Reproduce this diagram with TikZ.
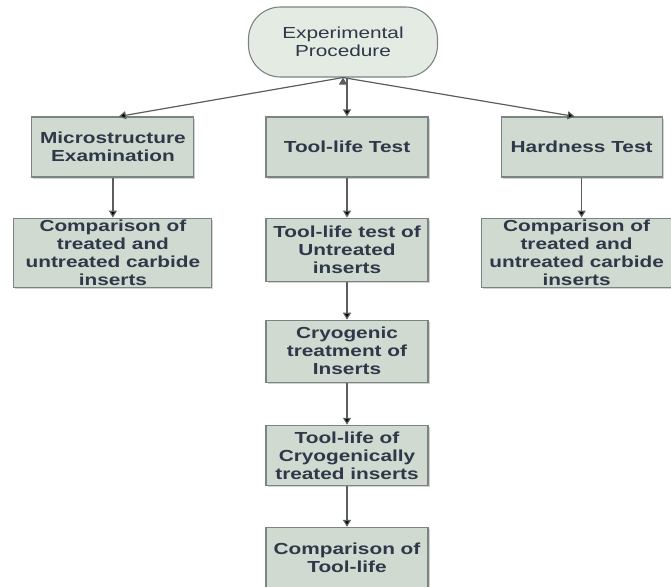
\documentclass[tikz,border=0pt]{standalone}
\usepackage{fontspec}
\setmainfont{Liberation Sans}[FakeStretch=1.3]
\usetikzlibrary{arrows.meta, positioning, shadows}
\definecolor{boxfill}{HTML}{D0DAD1}
\definecolor{rootfill}{HTML}{E3EBE2}
\definecolor{boxline}{HTML}{7A8480}
\definecolor{boxtext}{HTML}{2E3848}
\definecolor{arrowgrey}{HTML}{5A5E5E}

\begin{document}
\begin{tikzpicture}[x=1pt,y=1pt,node distance=40pt,>={Triangle[length=7pt,width=8pt]},
        every node/.style={text=boxtext,font=\fontsize{16}{18}\selectfont,align=center},
        stepbox/.style={draw=boxline,fill=boxfill,line width=1.1pt,minimum height=60pt,inner sep=2pt,
            font=\fontsize{16}{18}\selectfont\bfseries,
            drop shadow={opacity=0.35,shadow xshift=1.5pt,shadow yshift=-1.5pt}},
        rootbox/.style={draw=boxline,fill=rootfill,line width=1.1pt,rounded corners=32pt,
            minimum width=189pt,minimum height=70pt}]
        \useasboundingbox (0,0) rectangle (671,-586);
        \node[rootbox] (root) at (343,-42) {Experimental\\Procedure};
        \node[stepbox,minimum width=162pt] (test) at (347,-147) {Tool-life Test};
        \node[stepbox,minimum width=162pt] (micro) [left=71pt of test] {Microstructure\\Examination};
        \node[stepbox,minimum width=161pt] (hard) [right=72pt of test] {Hardness Test};
        \node[stepbox,minimum width=198pt] (cmp_l) [below=of micro] {Comparison of\\treated and\\untreated carbide\\inserts};
        \node[stepbox,minimum width=190pt] (cmp_r) [below=of hard,xshift=-5pt] {Comparison of\\treated and\\untreated carbide\\inserts};
        \node[stepbox,minimum width=162pt,minimum height=63pt] (untr) [below=of test] {Tool-life test of\\Untreated\\inserts};
        \node[stepbox,minimum width=162pt,minimum height=62pt] (cryo) [below=38pt of untr] {Cryogenic\\treatment of\\Inserts};
        \node[stepbox,minimum width=162pt] (life) [below=42pt of cryo] {Tool-life of\\Cryogenically\\treated inserts};
        \node[stepbox,minimum width=162pt] (cmp_t) [below=41pt of life] {Comparison of\\Tool-life};
        \path[->, draw=arrowgrey, line width=1.2pt] (root.south) edge ([xshift=6pt]micro.north)
        ([xshift=4pt]root.south) edge (test)
        (root.south) edge ([xshift=-7pt]hard.north)
        (micro) edge (cmp_l)
        (hard) edge ([xshift=5pt]cmp_r.north)
        (test) edge (untr)
        (untr) edge (cryo)
        (cryo) edge (life)
        (life) edge (cmp_t);
    \end{tikzpicture}
\end{document}
